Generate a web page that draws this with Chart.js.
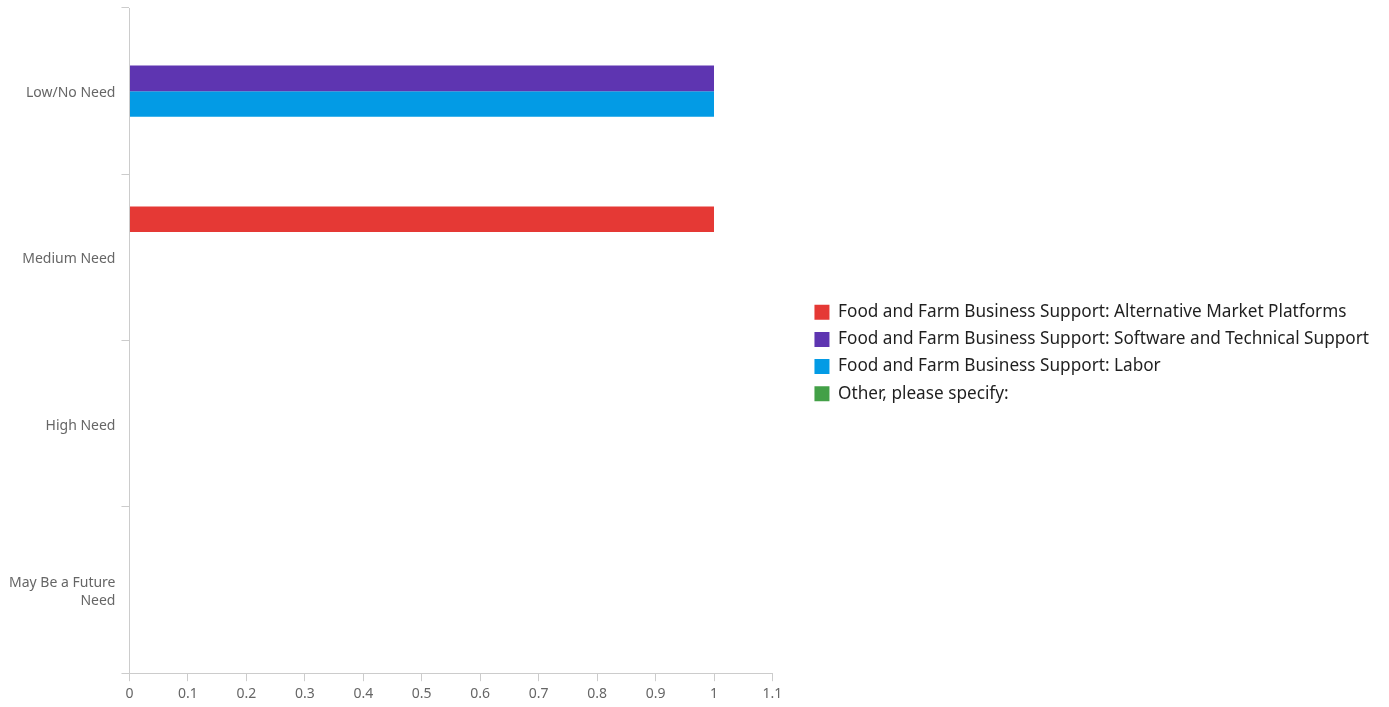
<!DOCTYPE html>
<html>
<head>
<meta charset="utf-8">
<script src="https://cdn.jsdelivr.net/npm/chart.js@4/dist/chart.umd.min.js"></script>
<style>
  html, body { margin: 0; padding: 0; background: #fff; }
  #wrap { width: 1389px; height: 707px; }
</style>
</head>
<body>
<div id="wrap"><canvas id="needChart"></canvas></div>
<script>
// categories on the y axis
var needLevels = ['Low/No Need', 'Medium Need', 'High Need', ['May Be a Future', 'Need']];

// one value per category for each series
var altMarketValues = [0, 1, 0, 0];
var softwareValues = [1, 0, 0, 0];
var laborValues = [1, 0, 0, 0];
var otherValues = [0, 0, 0, 0];

var seriesNames = [
    'Food and Farm Business Support: Alternative Market Platforms',
    'Food and Farm Business Support: Software and Technical Support',
    'Food and Farm Business Support: Labor',
    'Other, please specify:'
];
var seriesColors = ['#e53935', '#5e35b1', '#039be5', '#43a047'];

var xMin = 0, xMax = 1.1, xStep = 0.1;

var allValues = [altMarketValues, softwareValues, laborValues, otherValues];
var datasets = [];
for (var i = 0; i < allValues.length; i++) {
    datasets.push({
        label: seriesNames[i],
        data: allValues[i],
        backgroundColor: seriesColors[i],
        borderWidth: 0,
        barPercentage: 1,
        categoryPercentage: 0.614
    });
}

new Chart(document.getElementById('needChart'), {
    type: 'bar',
    data: { labels: needLevels, datasets: datasets },
    options: {
        indexAxis: 'y',
        responsive: true,
        maintainAspectRatio: false,
        animation: false,
        layout: { padding: { top: 8, left: 3, right: 10, bottom: 9 } },
        plugins: {
            tooltip: { enabled: false },
            legend: {
                position: 'right',
                align: 'center',
                maxWidth: 650,
                labels: {
                    boxWidth: 15,
                    boxHeight: 15,
                    padding: 10,
                    color: '#1f1f1f',
                    font: { family: 'Noto Sans', size: 17.2 }
                }
            }
        },
        scales: {
            x: {
                min: xMin,
                max: xMax,
                ticks: {
                    stepSize: xStep,
                    color: '#666',
                    padding: 4,
                    font: { family: 'Noto Sans', size: 14 },
                    callback: function (v) { return Math.round(v * 10) / 10; }
                },
                grid: { drawOnChartArea: false, drawTicks: true, tickLength: 8, color: '#ccc' },
                border: { display: true, color: '#ccc' },
                // labels may hang below the box; keeps the legend centred like the original
                afterFit: function (scale) { scale.height -= 8; }
            },
            y: {
                ticks: {
                    color: '#666',
                    padding: 6,
                    labelOffset: 2,
                    font: { family: 'Noto Sans', size: 14, lineHeight: 1.3 }
                },
                grid: { drawOnChartArea: false, drawTicks: true, tickLength: 8, color: '#ccc' },
                border: { display: true, color: '#ccc' },
                afterFit: function (scale) { scale.paddingTop = 0; scale.paddingBottom = 0; }
            },
            // empty spacer between the plot and the legend
            gap: {
                type: 'category',
                axis: 'y',
                position: 'right',
                ticks: { display: false },
                grid: { display: false, drawTicks: false },
                border: { display: false },
                afterFit: function (scale) { scale.width = 32; scale.paddingTop = 0; scale.paddingBottom = 0; }
            }
        }
    }
});
</script>
</body>
</html>
